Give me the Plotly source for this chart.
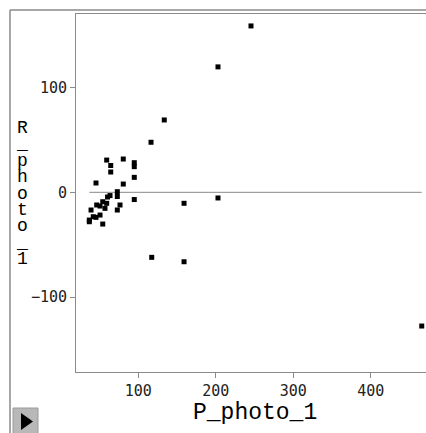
import plotly.graph_objects as go

# Data
p_photo_1 = [245.4, 202.8, 133.5, 116.4, 59.2, 64.4, 64.4, 80.6, 94.8, 94.8,
             94.8, 45.4, 80.6, 72.9, 63.5, 60.3, 72.9, 94.8, 202.8, 159.0,
             54.1, 46.3, 50.6, 59.2, 76.4, 72.9, 57.0, 39.0, 50.6, 41.9,
             36.8, 45.4, 54.1, 36.8, 117.3, 159.0, 465.7]
r_photo_1 = [158.9, 119.8, 69.1, 47.8, 30.8, 25.6, 19.4, 31.8, 28.3, 24.5,
             14.3, 8.9, 7.9, 0.6, -3.1, -4.5, -4.0, -6.9, -5.4, -10.5,
             -9.0, -12.1, -13.1, -10.5, -12.1, -16.9, -15.3, -16.9, -21.7, -23.3,
             -26.5, -23.9, -30.3, -28.1, -62.1, -66.3, -127.7]
x_ticks = [100, 200, 300, 400]
y_ticks = [-100, 0, 100]
x_title = "P_photo_1"
y_title = "R_photo_1"

W, H = 426, 433
L, T, R, B = 76, 14, 0, 61
pw, ph = W - L - R, H - T - B


def px(xp):
    return (xp - L) / pw


def py(yp):
    return (H - B - yp) / ph


GRAY = "#8a8a8a"

fig = go.Figure()
# zero reference line spanning the data
fig.add_trace(go.Scatter(x=[min(p_photo_1), max(p_photo_1)], y=[0, 0], mode="lines",
                         line=dict(color=GRAY, width=1), hoverinfo="skip", showlegend=False))
fig.add_trace(go.Scatter(x=p_photo_1, y=r_photo_1, mode="markers",
                         marker=dict(symbol="square", size=5, color="black", line=dict(width=0)),
                         showlegend=False))

tick_font = dict(family="DejaVu Sans Mono", size=15, color="#222")
fig.update_xaxes(range=[19.6, 471.2], tickvals=x_ticks, ticktext=[str(v) for v in x_ticks],
                 showgrid=False, zeroline=False, showline=True, linecolor=GRAY, linewidth=1,
                 mirror=True, ticks="outside", ticklen=5, tickcolor=GRAY, tickfont=tick_font)
fig.update_yaxes(range=[-171.6, 170.3], tickvals=y_ticks,
                 ticktext=[("\u2212" + str(-v)) if v < 0 else str(v) for v in y_ticks],
                 showgrid=False, zeroline=False, showline=True, linecolor=GRAY, linewidth=1,
                 mirror=False, ticks="outside", ticklen=5, tickcolor=GRAY, tickfont=tick_font)

shapes = [
    # outer frame (left and top)
    dict(type="line", xref="paper", yref="paper", x0=px(10), x1=px(10), y0=py(440), y1=py(10),
         line=dict(color=GRAY, width=1.5)),
    dict(type="line", xref="paper", yref="paper", x0=px(10), x1=px(440), y0=py(10), y1=py(10),
         line=dict(color=GRAY, width=1.5)),
    # button
    dict(type="rect", xref="paper", yref="paper", x0=px(13), x1=px(38), y0=py(408), y1=py(440),
         fillcolor="#b8b8b8", line=dict(color="#9a9a9a", width=1)),
    dict(type="path", xref="paper", yref="paper",
         path=f"M {px(21)} {py(413)} L {px(33)} {py(421.5)} L {px(21)} {py(430)} Z",
         fillcolor="black", line=dict(color="black", width=0)),
]

annotations = [dict(text=x_title, xref="paper", yref="paper", x=px(255), y=py(413),
                    xanchor="center", yanchor="middle", showarrow=False,
                    font=dict(family="Liberation Mono", size=23, color="black"))]
y0, step = 128, 16.4
for i, ch in enumerate(y_title):
    annotations.append(dict(text=ch, xref="paper", yref="paper", x=px(22), y=py(y0 + i * step),
                            xanchor="center", yanchor="middle", showarrow=False,
                            font=dict(family="Liberation Mono", size=18, color="black")))

fig.update_layout(width=W, height=H, margin=dict(l=L, r=R, t=T, b=B),
                  paper_bgcolor="white", plot_bgcolor="white",
                  shapes=shapes, annotations=annotations, showlegend=False)

fig.write_html("out.html", config={"displayModeBar": False},
               post_script="document.body.style.margin='0px';document.body.style.overflow='hidden';")
